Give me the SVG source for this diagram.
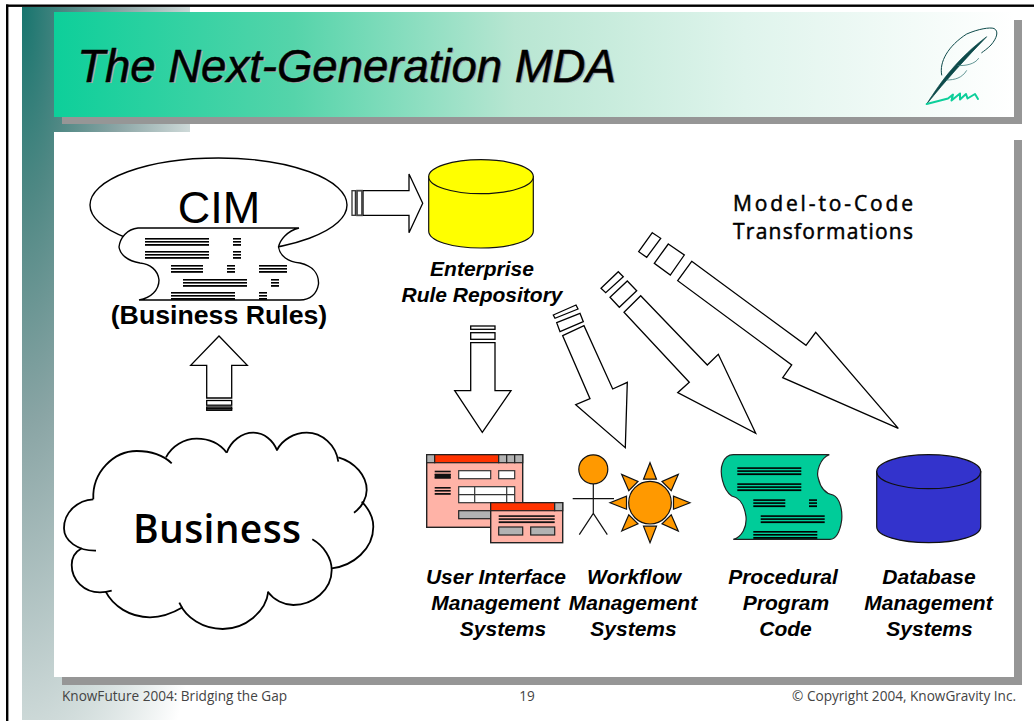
<svg xmlns="http://www.w3.org/2000/svg" width="1034" height="721" viewBox="0 0 1034 721">
<style>
.ol{fill:#fff;stroke:#000;stroke-width:1.4}
.ar{fill:#fff;stroke:#000;stroke-width:1.3;stroke-linejoin:miter}
.cl{fill:none;stroke:#000;stroke-width:1.8;stroke-linecap:butt}
.lb{font:italic bold 21px "Liberation Sans",Arial,sans-serif;text-anchor:middle;fill:#000}
.hd{font-family:"Liberation Sans",Arial,sans-serif;text-anchor:middle;fill:#000}
.op{font-family:"Open Sans","Noto Sans",sans-serif;fill:#000}
.ft{font-family:"Open Sans","Noto Sans",sans-serif;font-size:13.6px;fill:#444}
.win{fill:#ffb3a7;stroke:#222;stroke-width:1.4}
.red{fill:#ff3300;stroke:#222;stroke-width:1.2}
.gr{fill:#b2b2b2;stroke:#222;stroke-width:1.2}
.wh{fill:#fff;stroke:#333;stroke-width:1.2}
.or{fill:#ff9900;stroke:#111;stroke-width:1.2}
.sh{fill:#969696}
</style>
<defs>
<linearGradient id="ban" gradientUnits="userSpaceOnUse" x1="54" y1="0" x2="1014" y2="0">
<stop offset="0" stop-color="#0dcf9a"/><stop offset=".25" stop-color="#55d4aa"/><stop offset=".48" stop-color="#b8e6d2"/><stop offset=".72" stop-color="#dff4ec"/><stop offset="1" stop-color="#ffffff"/>
</linearGradient>
<radialGradient id="cor" gradientUnits="userSpaceOnUse" cx="0" cy="0" r="1.35" gradientTransform="translate(22,7) scale(170,720)">
<stop offset="0" stop-color="#17756e"/><stop offset=".2" stop-color="#4f8884"/><stop offset=".43" stop-color="#8aa5a5"/><stop offset=".74" stop-color="#cdd9d8"/><stop offset="1" stop-color="#ffffff"/>
</radialGradient>
<g id="bar"><rect y="0" width="1" height="1.6"/><rect y="3" width="1" height="1.6"/><rect y="6" width="1" height="1.8"/></g>
<polygon id="ray" points="0,-40 -6.5,-23.5 6.5,-23.5" class="or"/>
</defs>

<g id="background">
<path d="M22 7H190V132H54V677H190V720H22Z" fill="url(#cor)"/>
<rect x="6" y="4.5" width="1028" height="2.4" fill="#000"/>
<rect x="6" y="4.5" width="2.4" height="717" fill="#000"/>
<rect class="sh" x="62" y="20" width="960" height="104"/>
<rect x="54" y="12" width="960" height="105" fill="url(#ban)"/>
<rect class="sh" x="1014" y="140" width="8" height="545"/>
<rect class="sh" x="62" y="677" width="960" height="8"/>
</g>

<g id="title">
<text class="hd" x="348" y="83" font-size="45.500" font-style="italic" style="fill:#a8a8a8">The Next-Generation MDA</text>
<text class="hd" x="346.500" y="81.600" font-size="45.500" font-style="italic" stroke="#000" stroke-width=".5">The Next-Generation MDA</text>
</g>

<g id="quill" fill="none" stroke-linecap="round" stroke-linejoin="round">
<path d="M926.700 104C942 80 958 58 986.700 36.700C966 58 946 80 926.700 104Z" fill="#0d4a4a" stroke="#0d4a4a" stroke-width=".7"/>
<path d="M941.700 75C939 62 948 46 966.700 34C978 29 990 27 994 28.500C999 31 997 38 991 45C987 49 984 51 981.700 52.700" stroke="#0d4a4a" stroke-width="1"/>
<path d="M958 65.500C966 66 975 64 978.500 58.500M946.500 80C955 80 962 78 966.500 70.700" stroke="#3a7a78" stroke-width=".8"/>
<path d="M926.700 104L948 98.500L953 94.500L951.500 100.500L960 93.500L960 99.500L966 94L967.500 98.500L975 94L978 99" stroke="#0dcf9a" stroke-width="2"/>
</g>

<g id="connectors">
<g class="flow-cim-repo">
<path class="ar" d="M363 190.700H409V174L422.700 203.300L409 232.700V215.300H363Z"/>
<rect x="352" y="190.700" width="3.400" height="24.600" fill="#fff" stroke="#333" stroke-width="1.300"/>
<rect x="357" y="190.700" width="5" height="24.600" fill="#fff" stroke="#444" stroke-width="1.800"/>
</g>
<g class="flow-business-cim">
<path class="ar" d="M206.700 398V365.300H190.700L219 336L247.300 365.300H231.700V398Z"/>
<rect class="ar" x="206.700" y="400.500" width="25" height="4.700"/>
<rect class="ar" x="206.700" y="407" width="25" height="1.500"/>
<rect class="ar" x="206.700" y="408.800" width="25" height="1.500"/>
</g>
<g class="flow-down">
<path class="ar" d="M470.700 342.700H495V390.700H511L482.300 432.300L454.700 390.700H470.700Z"/>
<rect class="ar" x="470.700" y="326" width="24.300" height="3.300"/>
<rect class="ar" x="470.700" y="332.700" width="24.300" height="6.600"/>
</g>
<g class="flow-workflow">
<path class="ar" d="M562.700 335.700L584 325.700L612.700 389L627.300 382.300L625.300 447.700L575.700 404.700L590 398.700Z"/>
<path class="ar" d="M553.300 315L576 305L578 309L555 318.300Z"/>
<path class="ar" d="M556.700 322.700L580 313.300L583.300 321.700L560 331.700Z"/>
</g>
<g class="flow-procedural">
<path class="ar" d="M640.700 295.700L707.300 365L718.300 354.300L755.700 433.300L677.700 392.700L689.300 382.300L624 312.300Z"/>
<path class="ar" d="M618.300 271.700L623.300 276.700L605.700 292.700L601 288.300Z"/>
<path class="ar" d="M627.300 281L636.700 290.700L619.300 307.300L610 297.300Z"/>
</g>
<g class="flow-database">
<path class="ar" d="M691.700 261.300L806 345.300L815.700 332.300L898.300 428.300L782.700 377.700L791.700 365L677.700 280.700Z"/>
<path class="ar" d="M652.300 232.700L660.700 238.300L646.700 257.300L638.700 251.700Z"/>
<path class="ar" d="M668.300 244L684.300 255L670.300 275L654.300 263.300Z"/>
</g>
</g>

<g id="cim">
<ellipse class="ol" cx="218.500" cy="205" rx="128.500" ry="47"/>
<text class="hd" x="219" y="222.700" font-size="45">CIM</text>
<path class="ol" d="M138 228H299C287 231 280 240 278.500 247C280 256 288 262 300 263C313 266 319 274 318.500 284C317 294 310 300 300 300H139C151 298 159 290 159 280C158 270 150 264 140 263C127 261 120 254 119 247C120 238 127 229 138 228Z"/>
<g fill="#000">
<use href="#bar" transform="translate(145,238) scale(64,1)"/><use href="#bar" transform="translate(233,238) scale(8,1)"/>
<use href="#bar" transform="translate(145,251) scale(64,1)"/><use href="#bar" transform="translate(233,251) scale(8,1)"/>
<use href="#bar" transform="translate(171,265) scale(32,1)"/><use href="#bar" transform="translate(227,265) scale(8,1)"/><use href="#bar" transform="translate(259,265) scale(28,1)"/>
<use href="#bar" transform="translate(183,279) scale(64,1)"/><use href="#bar" transform="translate(271,279) scale(8,1)"/>
<use href="#bar" transform="translate(171,292) scale(64,1)"/><use href="#bar" transform="translate(259,292) scale(8,1)"/>
</g>
<text class="hd" x="219" y="324" font-size="26.700" font-weight="bold">(Business Rules)</text>
</g>

<g id="business">
<path class="cl" d="M93.300 499.300C92 472 114 451 136.700 451C150 451 163 455 171.700 463.300"/>
<path class="cl" d="M166 457.300C172 446 184 438.700 196.700 438.700C209 438.700 220 444 226.700 452.700"/>
<path class="cl" d="M226.700 452.700C231 441 242 432.700 253.300 432.700C264 432.700 273 440 277.300 450.700"/>
<path class="cl" d="M277 450C282 440 294 432.700 306.700 432.700C322 432.700 336 445 338.300 461.700"/>
<path class="cl" d="M338.300 457.300C355 462 366.700 476 366.700 490C366.700 498 362 507 354 512.700"/>
<path class="cl" d="M361.700 501.700C369 509 373.300 518 373.300 526.700C373.300 549 353 566 331.700 568.300"/>
<path class="cl" d="M312.300 539.300C324 546 331.700 558 331.700 570C331.700 590 313 605 293.300 605C284 605 274 600 267.700 591.700"/>
<path class="cl" d="M268.300 591.700C266 612 245 629 222.700 629C203 629 186 618 179.300 602.700"/>
<path class="cl" d="M182.700 607.300C173 613 161 617.300 150 617.300C130 617.300 113 606 105.700 591.700"/>
<path class="cl" d="M111.700 590.700C107 592 103 592.300 100 592.300C84 592.300 71.700 580 71.700 565C71.700 558 75 552 81.700 548.300"/>
<path class="cl" d="M96 550.700C78 551 64 541 64 528.300C64 512 78 500 93.300 499.300"/>
<text class="op" x="133" y="543" font-size="39" font-weight="600" textLength="168" lengthAdjust="spacing">Business</text>
</g>

<g id="repository">
<path d="M428.700 176.700V231C428.700 241 452 248 481 248S533.300 241 533.300 231V176.700Z" fill="#ffff00" stroke="#111" stroke-width="1.200"/>
<ellipse cx="481" cy="176.700" rx="52.300" ry="17" fill="#ffff00" stroke="#111" stroke-width="1.200"/>
<text class="lb" x="482" y="276">Enterprise</text>
<text class="lb" x="482" y="302">Rule Repository</text>
</g>

<g id="transform-label" class="op" font-size="21">
<text x="733" y="211" stroke="#000" stroke-width=".5" textLength="180" lengthAdjust="spacing">Model-to-Code</text>
<text x="733" y="239" stroke="#000" stroke-width=".5" textLength="180" lengthAdjust="spacing">Transformations</text>
</g>

<g id="ui-systems">
<rect class="win" x="426.700" y="454.700" width="96" height="72.600"/>
<rect class="gr" x="426.700" y="454.700" width="8" height="8"/>
<rect class="red" x="434.700" y="454.700" width="64" height="8"/>
<rect class="gr" x="498.700" y="454.700" width="8" height="8"/><rect class="gr" x="506.700" y="454.700" width="8" height="8"/><rect class="gr" x="514.700" y="454.700" width="8" height="8"/>
<g fill="#111">
<use href="#bar" transform="translate(434.700,470.700) scale(16,1)"/><rect x="434.700" y="474" width="16" height="4.500"/>
<use href="#bar" transform="translate(434.700,487) scale(16,1)"/>
</g>
<rect class="wh" x="458.700" y="470.700" width="32" height="8"/><rect class="wh" x="498.700" y="470.700" width="16" height="8"/>
<rect class="wh" x="458.700" y="486.700" width="56" height="16"/>
<path d="M458.700 494.700H514.700M474.700 486.700V502.700M506.700 486.700V502.700" stroke="#333" stroke-width="1.200" fill="none"/>
<rect class="gr" x="458.700" y="510.700" width="40" height="8"/>
<rect class="win" x="490.700" y="502.700" width="72" height="40"/>
<rect class="red" x="490.700" y="502.700" width="64" height="8"/><rect class="gr" x="554.700" y="502.700" width="8" height="8"/>
<use href="#bar" fill="#111" transform="translate(498.700,515.300) scale(56,1)"/>
<rect class="gr" x="498.700" y="527" width="24" height="8"/><rect class="gr" x="530.700" y="527" width="24" height="8"/>
<text class="lb" x="496" y="584">User Interface</text>
<text class="lb" x="495.500" y="610">Management</text>
<text class="lb" x="503" y="636">Systems</text>
</g>

<g id="workflow-systems">
<circle class="or" cx="593.300" cy="469.300" r="14.500"/>
<path d="M593.300 484V513.300M572.700 498.700H614M579.300 534.700L593.300 513.300L607.300 534.700" fill="none" stroke="#111" stroke-width="1.200"/>
<g transform="translate(650,502.700)">
<circle class="or" r="21.300"/>
<use href="#ray"/><use href="#ray" transform="rotate(45)"/><use href="#ray" transform="rotate(90)"/><use href="#ray" transform="rotate(135)"/><use href="#ray" transform="rotate(180)"/><use href="#ray" transform="rotate(225)"/><use href="#ray" transform="rotate(270)"/><use href="#ray" transform="rotate(315)"/>
</g>
<text class="lb" x="634" y="584">Workflow</text>
<text class="lb" x="633" y="610">Management</text>
<text class="lb" x="633.500" y="636">Systems</text>
</g>

<g id="procedural-code">
<path d="M733.300 454.700H829.300C820 458 816 472 818.300 478.300C821 490 828 494 833 495C840 498 842.500 510 841.700 520C840 532 836 539 830 539.300H733.300C742 537 747 527 746 516.700C744 502 737 497 731.700 496C723 490 719 472 722.700 463C725 457 729 454.700 733.300 454.700Z" fill="#00cc99" stroke="#222" stroke-width="1.200"/>
<g fill="#000">
<use href="#bar" transform="translate(737.300,467.300) scale(64,1)"/>
<use href="#bar" transform="translate(737.300,483.300) scale(64,1)"/>
<use href="#bar" transform="translate(753.300,499.300) scale(32,1)"/><use href="#bar" transform="translate(809,499.300) scale(8,1)"/>
<use href="#bar" transform="translate(760.700,515.300) scale(64,1)"/>
<use href="#bar" transform="translate(753.300,531) scale(64,1)"/>
</g>
<text class="lb" x="783" y="584">Procedural</text>
<text class="lb" x="786" y="610">Program</text>
<text class="lb" x="785.500" y="636">Code</text>
</g>

<g id="database">
<path d="M876.700 471.700V526.700C876.700 536 900 542.700 928.700 542.700S980.700 536 980.700 526.700V471.700Z" fill="#3333cc" stroke="#111" stroke-width="1.200"/>
<ellipse cx="928.700" cy="471.700" rx="52" ry="17" fill="#3333cc" stroke="#111" stroke-width="1.200"/>
<text class="lb" x="929" y="584">Database</text>
<text class="lb" x="928.500" y="610">Management</text>
<text class="lb" x="929.500" y="636">Systems</text>
</g>

<g id="footer">
<text class="ft" x="62" y="701">KnowFuture 2004: Bridging the Gap</text>
<text class="ft" x="527" y="701" text-anchor="middle">19</text>
<text class="ft" x="1016" y="701" text-anchor="end">© Copyright 2004, KnowGravity Inc.</text>
</g>
</svg>
